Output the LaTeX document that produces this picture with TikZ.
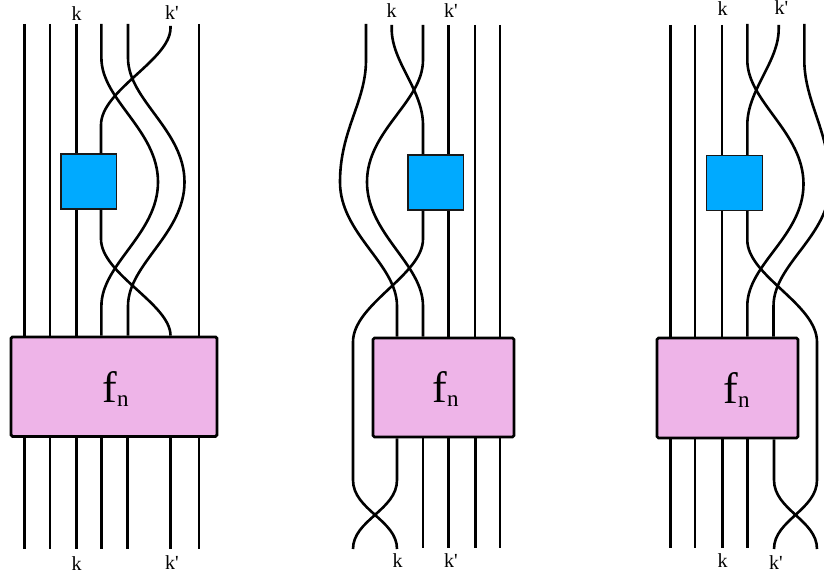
\documentclass[tikz,border=0pt]{standalone}
\usepackage{fontspec}
\setmainfont[Ligatures=TeXOff]{Liberation Serif}
\definecolor{gateblue}{HTML}{00AAFF}
\definecolor{fpink}{HTML}{EEB4E8}
\tikzset{
  strand/.style={line width=2.6pt,black,line join=round},
  fbox/.style={draw=black,fill=fpink,line width=2.8pt,rounded corners=1.5pt,inner sep=0pt},
  gate/.style={draw=black!90,fill=gateblue,line width=1.3pt,inner sep=0pt,minimum width=55.5pt,minimum height=55pt},
  lab/.style={font=\fontsize{20}{20}\selectfont,inner sep=0pt},
  fnlab/.style={inner sep=0pt},
}
\newcommand{\fnlabel}{\fontsize{44}{44}\selectfont f\raisebox{-4pt}{\fontsize{23}{23}\selectfont n}}
\newcommand{\kp}{k'}
\begin{document}
\begin{tikzpicture}[x=1pt,y=-1pt]
\useasboundingbox (0,0) rectangle (824,577);
% ---------- boxes
\node[fbox,minimum width=206pt,minimum height=99.5pt] (F1) at (114,386.7) {};
\node[fbox,minimum width=141pt,minimum height=99pt] (F2) at (443.5,387.5) {};
\node[fbox,minimum width=141pt,minimum height=100pt] (F3) at (727.5,388) {};
\node[fnlab] (fn1) at (115.5,389) {\fnlabel};
\node[fnlab] (fn2) at (445.5,389) {\fnlabel};
\node[fnlab] (fn3) at (736.5,390) {\fnlabel};
\node[gate] (B1) at (88.7,181.5) {};
\node[gate] (B2) at (435.8,182.5) {};
\node[gate] (B3) at (734.5,183) {};
% ---------- labels
\node[lab] (k1t) at (76.5,14) {k};
\node[lab] (p1t) at (172,13) {\kp};
\node[lab] (k1b) at (76.5,564) {k};
\node[lab] (p1b) at (172,563) {\kp};
\node[lab] (k2t) at (391.5,11) {k};
\node[lab] (p2t) at (451,11) {\kp};
\node[lab] (k2b) at (397.5,561) {k};
\node[lab] (p2b) at (451,561) {\kp};
\node[lab] (k3t) at (722.5,9) {k};
\node[lab] (p3t) at (781.5,8) {\kp};
\node[lab] (k3b) at (722.5,561) {k};
\node[lab] (p3b) at (776,563) {\kp};
% ---------- diagram 1
\foreach \x in {24.5,50,199} \draw[strand] (\x,24) -- (\x,0 |- F1.north);
\foreach \x in {24.5,50,76.2,101.4,127.7,170.3,199} \draw[strand] (\x,0 |- F1.south) -- (\x,549);
\draw[strand] (76.2,24) -- (76.2,0 |- B1.north);
\draw[strand] (76.2,0 |- B1.south) -- (76.2,0 |- F1.north);
\draw[strand] (170.5,26) -- (170.5,28) .. controls (170.5,60) and (101,90) .. (101,125) -- (101,0 |- B1.north);
\draw[strand] (101,0 |- B1.south) -- (101,239) .. controls (101,274) and (170.5,304) .. (170.5,0 |- F1.north);
\draw[strand] (101.4,24) -- (101.4,58) .. controls (101.4,100) and (158,130) .. (158,182)
  .. controls (158,234) and (101.4,264) .. (101.4,306) -- (101.4,0 |- F1.north);
\draw[strand] (128,24) -- (128,58) .. controls (128,100) and (184.5,130) .. (184.5,182)
  .. controls (184.5,234) and (128,264) .. (128,306) -- (128,0 |- F1.north);
% ---------- diagram 2
\foreach \x in {475,500} \draw[strand] (\x,25) -- (\x,0 |- F2.north);
\foreach \x in {423,448.5,475.5,500} \draw[strand] (\x,0 |- F2.south) -- (\x,548);
\draw[strand] (448.5,25) -- (448.5,0 |- B2.north);
\draw[strand] (448.5,0 |- B2.south) -- (448.5,0 |- F2.north);
\draw[strand] (366,24) -- (366,60) .. controls (366,102) and (340,130) .. (340,182)
  .. controls (340,234) and (397,264) .. (397,306) -- (397,0 |- F2.north);
\draw[strand] (423,25) -- (423,60) .. controls (423,102) and (367,130) .. (367,182)
  .. controls (367,234) and (423,264) .. (423,306) -- (423,0 |- F2.north);
\draw[strand] (391.7,25) -- (391.7,29) .. controls (391.7,62) and (423,90) .. (423,125) -- (423,0 |- B2.north);
\draw[strand] (423,0 |- B2.south) -- (423,239) .. controls (423,275) and (353,304) .. (353,342)
  -- (353,480) .. controls (353,510) and (397,520) .. (397,549);
\draw[strand] (397,0 |- F2.south) -- (397,480) .. controls (397,510) and (353,520) .. (353,549);
% ---------- diagram 3
\foreach \x in {670.5,695} \draw[strand] (\x,25) -- (\x,0 |- F3.north);
\foreach \x in {670.5,695,722.5,747.2} \draw[strand] (\x,0 |- F3.south) -- (\x,548);
\draw[strand] (722,25) -- (722,0 |- B3.north);
\draw[strand] (722,0 |- B3.south) -- (722,0 |- F3.north);
\draw[strand] (778.7,25) -- (778.7,29) .. controls (778.7,62) and (747.3,90) .. (747.3,125) -- (747.3,0 |- B3.north);
\draw[strand] (747.3,0 |- B3.south) -- (747.3,240) .. controls (747.3,276) and (817,304) .. (817,342)
  -- (817,480) .. controls (817,510) and (774,520) .. (774,549);
\draw[strand] (747.3,24) -- (747.3,60) .. controls (747.3,102) and (803.5,132) .. (803.5,184)
  .. controls (803.5,236) and (747.3,264) .. (747.3,306) -- (747.3,0 |- F3.north);
\draw[strand] (804.3,24) -- (804.3,60) .. controls (804.3,102) and (830,132) .. (830,184)
  .. controls (830,236) and (773.5,264) .. (773.5,306) -- (773.5,0 |- F3.north);
\draw[strand] (774,0 |- F3.south) -- (774,480) .. controls (774,510) and (817,520) .. (817,549);
\end{tikzpicture}
\end{document}
